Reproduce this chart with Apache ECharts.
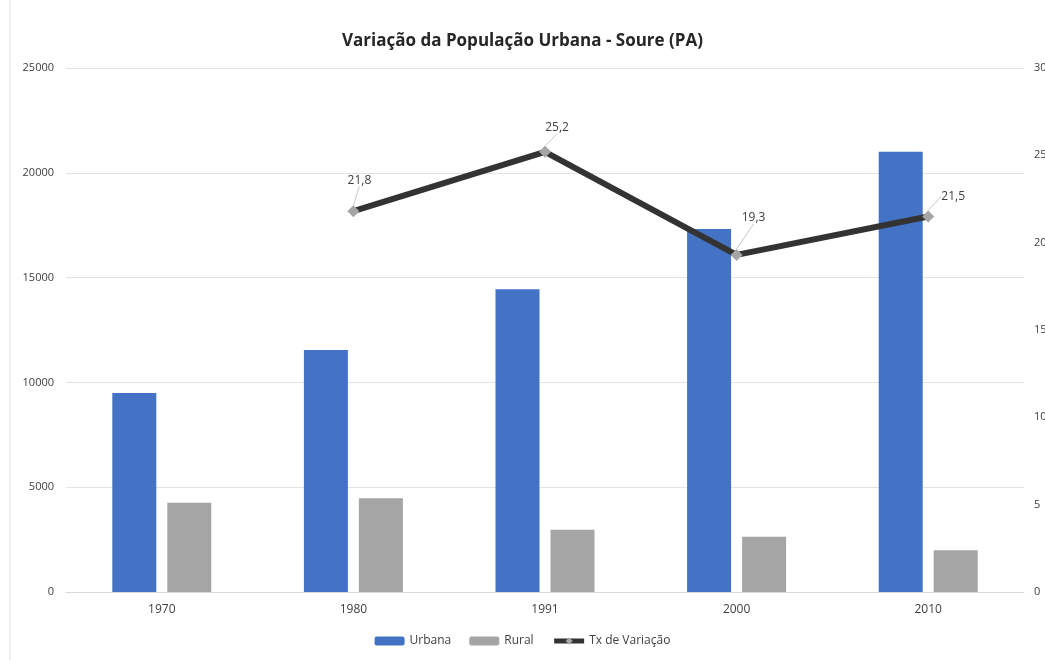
<!DOCTYPE html>
<html>
<head>
<meta charset="utf-8">
<script src="https://cdn.jsdelivr.net/npm/echarts@6/dist/echarts.min.js"></script>
<style>html,body{margin:0;padding:0;background:#fff;}#c{width:1045px;height:660px;}</style>
</head>
<body>
<div id="c"></div>
<script>
const categories = ['1970', '1980', '1991', '2000', '2010'];
const urbana = [9500, 11550, 14450, 17320, 21000];
const rural = [4260, 4470, 2970, 2640, 1990];
const txVariacao = [null, 21.8, 25.2, 19.3, 21.5];
const labelOffsets = [[0, 0], [6, -31], [12, -24], [17, -37], [25, -20]];

const chart = echarts.init(document.getElementById('c'));
const font = '"Open Sans", "Noto Sans", sans-serif';
chart.setOption({
  backgroundColor: '#fff',
  animation: false,
  textStyle: { fontFamily: font },
  title: {
    text: 'Variação da População Urbana - Soure (PA)',
    left: 'center', top: 28,
    textStyle: { fontSize: 17, fontWeight: 'bold', color: '#262626', fontFamily: font }
  },
  legend: {
    bottom: 8, left: 'center',
    itemWidth: 30, itemHeight: 9, itemGap: 18,
    textStyle: { fontSize: 12, color: '#404040' },
    data: ['Urbana', 'Rural', { name: 'Tx de Variação', lineStyle: { width: 5, color: '#333333' } }]
  },
  grid: { left: 66, right: 21, top: 68, bottom: 68, containLabel: false, outerBoundsMode: 'none' },
  xAxis: {
    type: 'category', data: categories,
    axisLine: { lineStyle: { color: '#d9d9d9' } },
    axisTick: { show: false },
    axisLabel: { color: '#404040', fontSize: 12, margin: 12 }
  },
  yAxis: [{
    type: 'value', min: 0, max: 25000, interval: 5000,
    axisLine: { show: false }, axisTick: { show: false },
    axisLabel: { color: '#404040', fontSize: 11, margin: 12, formatter: v => String(v) },
    splitLine: { lineStyle: { color: '#e3e3e3' } }
  }, {
    type: 'value', min: 0, max: 30, interval: 5, position: 'right',
    axisLine: { show: false }, axisTick: { show: false },
    axisLabel: { color: '#404040', fontSize: 11, margin: 10 },
    splitLine: { show: false }
  }],
  series: [{
    name: 'Urbana', type: 'bar', data: urbana,
    barWidth: 44, barGap: '25%',
    itemStyle: { color: '#4472C4' }
  }, {
    name: 'Rural', type: 'bar', data: rural,
    barWidth: 44,
    itemStyle: { color: '#A5A5A5' }
  }, {
    name: 'Tx de Variação', type: 'line', yAxisIndex: 1, data: txVariacao,
    symbol: 'diamond', symbolSize: 12,
    itemStyle: { color: '#A5A5A5' },
    lineStyle: { color: '#333333', width: 6 },
    z: 5,
    label: {
      show: true, position: 'inside', color: '#404040', fontSize: 12,
      formatter: p => String(p.value).replace('.', ',')
    },
    labelLine: { show: true, lineStyle: { color: '#c8c8c8', width: 1 } },
    labelLayout: function (p) {
      const o = labelOffsets[p.dataIndex] || [0, 0];
      return { dx: o[0], dy: o[1] };
    }
  }],
  graphic: [{
    type: 'line', shape: { x1: 10, y1: 0, x2: 10, y2: 660 },
    style: { stroke: '#e0e0e0', lineWidth: 1 }
  }]
});
</script>
</body>
</html>
